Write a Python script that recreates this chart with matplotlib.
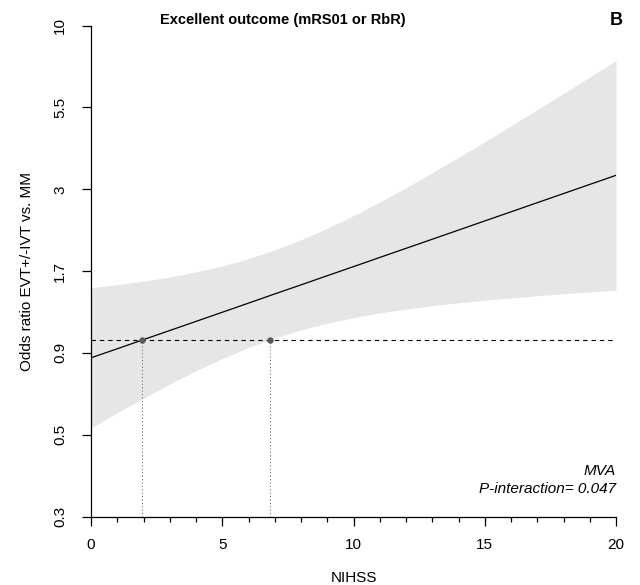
import matplotlib
matplotlib.use("Agg")
import matplotlib.pyplot as plt
from matplotlib.ticker import FixedLocator, MultipleLocator, NullFormatter

plt.rcParams["font.family"] = ["Liberation Sans", "DejaVu Sans"]

# NIHSS grid and estimated odds ratio with 95% confidence band
nihss = list(range(0, 21))
or_est = [0.875, 0.935, 1.000, 1.069, 1.143, 1.222, 1.307, 1.398, 1.494, 1.598,
          1.708, 1.827, 1.953, 2.088, 2.233, 2.388, 2.553, 2.730, 2.919, 3.121, 3.337]
or_lower = [0.523, 0.585, 0.651, 0.722, 0.796, 0.870, 0.943, 1.012, 1.074, 1.128,
            1.175, 1.216, 1.251, 1.282, 1.310, 1.335, 1.358, 1.380, 1.400, 1.419, 1.438]
or_upper = [1.462, 1.496, 1.535, 1.583, 1.643, 1.717, 1.811, 1.931, 2.080, 2.263,
            2.483, 2.744, 3.048, 3.401, 3.806, 4.269, 4.798, 5.400, 6.085, 6.862, 7.745]

# NIHSS values where the estimate and the lower bound cross OR = 1
cross_nihss = [1.95, 6.83]
reference_or = 1.0

# Axis ticks
x_major = [0, 5, 10, 15, 20]
y_ticks = [0.2732, 0.4979, 0.9072, 1.6530, 3.0119, 5.4881, 10.0]
y_labels = ["0.3", "0.5", "0.9", "1.7", "3", "5.5", "10"]

W, H = 640, 585
fig = plt.figure(figsize=(W / 100, H / 100), dpi=100)
ax = fig.add_axes([91 / W, 1 - 516.5 / H, (616 - 91) / W, (516.5 - 25.7) / H])

ax.fill_between(nihss, or_lower, or_upper, color="#E6E6E6", linewidth=0, zorder=1)
ax.plot(nihss, or_est, color="black", lw=0.9, zorder=3)
ax.axhline(reference_or, color="black", lw=0.8, linestyle=(0, (4, 3.5)), zorder=2)
for cx in cross_nihss:
    ax.plot([cx, cx], [y_ticks[0], reference_or], color="#555555", lw=0.7,
            linestyle=(0, (1, 2.5)), zorder=2, clip_on=False)
ax.plot(cross_nihss, [reference_or] * len(cross_nihss), "o", color="#5a5a5a",
        ms=4.6, mec="none", zorder=4)

ax.set_yscale("log")
ax.set_xlim(0, 20)
ax.set_ylim(y_ticks[0], y_ticks[-1])

ax.yaxis.set_major_locator(FixedLocator(y_ticks))
ax.yaxis.set_minor_locator(FixedLocator([]))
ax.yaxis.set_minor_formatter(NullFormatter())
ax.set_yticklabels(y_labels, rotation=90, va="center", fontsize=11)
ax.xaxis.set_major_locator(FixedLocator(x_major))
ax.xaxis.set_minor_locator(MultipleLocator(1))
ax.set_xticklabels([str(v) for v in x_major], fontsize=11)

for s in ("top", "right"):
    ax.spines[s].set_visible(False)
for s in ("left", "bottom"):
    ax.spines[s].set_linewidth(0.9)
ax.tick_params(axis="both", which="major", length=6.3, width=0.9, direction="out")
ax.tick_params(axis="x", which="minor", length=3.6, width=0.9, direction="out")
ax.tick_params(axis="y", which="major", pad=11)
ax.tick_params(axis="x", which="major", pad=9)

ax.set_xlabel("NIHSS", fontsize=11, labelpad=14)
ax.set_ylabel("Odds ratio EVT+/-IVT vs. MM", fontsize=11, labelpad=14)

ax.text(1.0, 0.085, "MVA", transform=ax.transAxes, ha="right", va="baseline",
        fontsize=11, style="italic")
ax.text(1.0, 0.048, "P-interaction= 0.047", transform=ax.transAxes, ha="right",
        va="baseline", fontsize=11, style="italic")

fig.text(283 / W, 1 - 24 / H, "Excellent outcome (mRS01 or RbR)", ha="center",
         va="baseline", fontsize=10.5, fontweight="bold")
fig.text(616 / W, 1 - 25 / H, "B", ha="center", va="baseline", fontsize=13,
         fontweight="bold")

fig.savefig("out.png", dpi=100)
